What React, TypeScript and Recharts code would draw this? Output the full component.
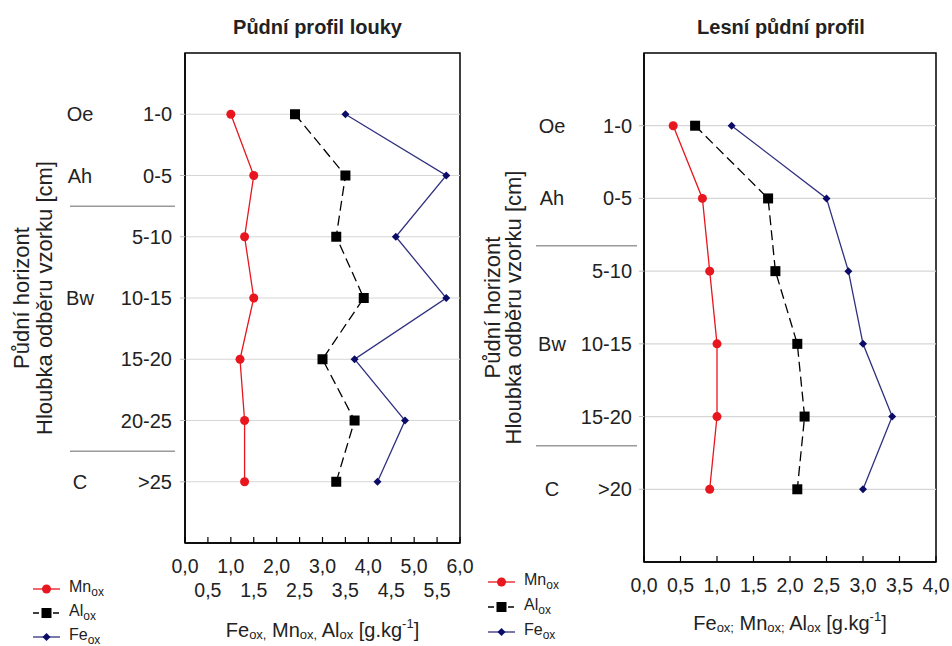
import React from 'react';
import { LineChart, Line, XAxis, YAxis, ReferenceLine, ReferenceArea, Legend } from 'recharts';

// meadow profile (left)
const loukaDepths = ['1-0', '0-5', '5-10', '10-15', '15-20', '20-25', '>25'];
const loukaHorizons = ['Oe', 'Ah', '', 'Bw', '', '', 'C'];
const loukaBoundaries = [2.5, 6.5];
const loukaMn = [1.0, 1.5, 1.3, 1.5, 1.2, 1.3, 1.3];
const loukaAl = [2.4, 3.5, 3.3, 3.9, 3.0, 3.7, 3.3];
const loukaFe = [3.5, 5.7, 4.6, 5.7, 3.7, 4.8, 4.2];
const loukaXTicks = [0, 0.5, 1, 1.5, 2, 2.5, 3, 3.5, 4, 4.5, 5, 5.5, 6];

// forest profile (right)
const lesDepths = ['1-0', '0-5', '5-10', '10-15', '15-20', '>20'];
const lesHorizons = ['Oe', 'Ah', '', 'Bw', '', 'C'];
const lesBoundaries = [2.65, 5.4];
const lesMn = [0.4, 0.8, 0.9, 1.0, 1.0, 0.9];
const lesAl = [0.7, 1.7, 1.8, 2.1, 2.2, 2.1];
const lesFe = [1.2, 2.5, 2.8, 3.0, 3.4, 3.0];
const lesXTicks = [0, 0.5, 1, 1.5, 2, 2.5, 3, 3.5, 4];

const seriesOrder = ['mn', 'al', 'fe'];

const MN_COLOR = '#e8161e';
const FE_LINE = '#30307f';
const FE_DOT = '#0b0b68';
const TEXT = '#222';
const FONT = '"Liberation Sans", Arial, sans-serif';

const toRows = (mn: number[], al: number[], fe: number[]) =>
  mn.map((v, i) => ({ row: i + 1, mn: v, al: al[i], fe: fe[i] }));

const fmt = (v: number) => v.toFixed(1).replace('.', ',');

const Marker = ({ kind, cx, cy }: { kind: string; cx: number; cy: number }) => {
  if (kind === 'mn') return <circle cx={cx} cy={cy} r={4.5} fill={MN_COLOR} />;
  if (kind === 'al') return <rect x={cx - 5} y={cy - 5} width={10} height={10} fill="#000" />;
  return <polygon points={`${cx},${cy - 4} ${cx + 4},${cy} ${cx},${cy + 4} ${cx - 4},${cy}`} fill={FE_DOT} />;
};

const lineColor: Record<string, string> = { mn: MN_COLOR, al: '#000', fe: FE_LINE };

const LegendBox = ({ payload, iconW, rowH }: any) => {
  const items = [...(payload || [])].sort(
    (a: any, b: any) => seriesOrder.indexOf(a.dataKey) - seriesOrder.indexOf(b.dataKey)
  );
  return (
    <div style={{ fontFamily: FONT, fontSize: 16, color: TEXT }}>
      {items.map((e: any) => (
        <div key={e.dataKey} style={{ display: 'flex', alignItems: 'center', height: rowH }}>
          <svg width={iconW} height={14} style={{ marginRight: 9 }}>
            <line
              x1={0}
              x2={iconW}
              y1={7}
              y2={7}
              stroke={lineColor[e.dataKey]}
              strokeWidth={1.3}
              strokeDasharray={e.dataKey === 'al' ? '6 4' : undefined}
            />
            <Marker kind={e.dataKey} cx={iconW / 2} cy={7} />
          </svg>
          <span>
            {e.value}
            <sub style={{ fontSize: 12 }}>ox</sub>
          </span>
        </div>
      ))}
    </div>
  );
};

type Cfg = {
  title: string;
  titleShift: number;
  depths: string[];
  horizons: string[];
  boundaries: number[];
  mn: number[];
  al: number[];
  fe: number[];
  xTicks: number[];
  sep: string;
  twoRows: boolean;
  axisW: number;
  height: number;
  bottom: number;
  depthOff: number;
  horizonOff: number;
  sepFrom: number;
  sepTo: number;
  titleX: [number, number];
  xTitleDy: number;
  legendPos: { left: number; top: number };
  legendRowH: number;
  iconW: number;
};

const ProfileChart = ({ c }: { c: Cfg }) => {
  const data = toRows(c.mn, c.al, c.fe);
  const rows = c.depths.map((_, i) => i + 1);
  const yMax = c.depths.length + 1;
  const xMax = c.xTicks[c.xTicks.length - 1];
  const yTicks = [...rows, ...c.boundaries].sort((a, b) => a - b);

  const yTick = ({ x, y, payload }: any) => {
    const v = payload.value;
    if (!Number.isInteger(v)) {
      return <line x1={x - c.sepFrom} x2={x - c.sepTo} y1={y} y2={y} stroke="#9a9a9a" strokeWidth={1.5} />;
    }
    return (
      <g>
        <line x1={x - 5} x2={x} y1={y} y2={y} stroke="#bbb" />
        <text x={x - c.depthOff} y={y} textAnchor="end" dominantBaseline="central" fontSize={20} fill={TEXT}>
          {c.depths[v - 1]}
        </text>
        <text x={x - c.horizonOff} y={y} textAnchor="middle" dominantBaseline="central" fontSize={20} fill={TEXT}>
          {c.horizons[v - 1]}
        </text>
      </g>
    );
  };

  const xTick = ({ x, y, payload }: any) => {
    const v = payload.value;
    const second = c.twoRows && !Number.isInteger(v);
    return (
      <g>
        <line x1={x} x2={x} y1={y - 6} y2={y} stroke="#000" strokeWidth={1.2} />
        <text x={x} y={y + (second ? 47 : 23)} textAnchor="middle" dominantBaseline="central" fontSize={19.5} fill={TEXT}>
          {fmt(v)}
        </text>
      </g>
    );
  };

  const yTitle = (p: any) => {
    const vb = p.viewBox || { x: 0, y: 0, height: 0 };
    const cy = vb.y + vb.height / 2;
    return (
      <g fontSize={22} fill={TEXT}>
        {['Půdní horizont', 'Hloubka odběru vzorku [cm]'].map((t, i) => (
          <text
            key={t}
            x={vb.x + c.titleX[i]}
            y={cy}
            textAnchor="middle"
            dominantBaseline="central"
            transform={`rotate(-90, ${vb.x + c.titleX[i]}, ${cy})`}
          >
            {t}
          </text>
        ))}
      </g>
    );
  };

  const xTitle = (p: any) => {
    const vb = p.viewBox || { x: 0, y: 0, width: 0 };
    return (
      <text x={vb.x + vb.width / 2} y={vb.y + c.xTitleDy} textAnchor="middle" dominantBaseline="central" fontSize={20} fill={TEXT}>
        Fe
        <tspan fontSize={13} dy={4}>{'ox' + c.sep}</tspan>
        <tspan dy={-4}> Mn</tspan>
        <tspan fontSize={13} dy={4}>{'ox' + c.sep}</tspan>
        <tspan dy={-4}> Al</tspan>
        <tspan fontSize={13} dy={4}>ox</tspan>
        <tspan dy={-4}> [g.kg</tspan>
        <tspan fontSize={13} dy={-7}>-1</tspan>
        <tspan dy={7}>]</tspan>
      </text>
    );
  };

  return (
    <div style={{ position: 'relative', width: 476, height: c.height }}>
      <div
        style={{
          position: 'absolute',
          top: 16,
          left: c.axisW + c.titleShift,
          width: 476 - c.axisW - 16,
          textAlign: 'center',
          fontWeight: 'bold',
          fontSize: 20,
          color: TEXT,
          fontFamily: FONT,
        }}
      >
        {c.title}
      </div>
      <LineChart
        width={476}
        height={c.height}
        data={data}
        layout="vertical"
        margin={{ top: 53, right: 16, left: 0, bottom: 0 }}
        style={{ fontFamily: FONT }}
      >
        <ReferenceArea x1={0} x2={xMax} y1={0} y2={yMax} fill="none" stroke="#000" strokeWidth={1.5} />
        {rows.map((r) => (
          <ReferenceLine key={r} y={r} stroke="#d6d6d6" strokeWidth={1.2} />
        ))}
        <XAxis
          type="number"
          domain={[0, xMax]}
          ticks={c.xTicks}
          interval={0}
          tickSize={0}
          tickMargin={0}
          tickLine={false}
          tick={xTick}
          axisLine={{ stroke: '#000', strokeWidth: 1.5 }}
          height={c.bottom}
          label={{ content: xTitle }}
        />
        <YAxis
          type="number"
          dataKey="row"
          domain={[0, yMax]}
          ticks={yTicks}
          interval={0}
          tickSize={0}
          tickMargin={0}
          tickLine={false}
          tick={yTick}
          axisLine={{ stroke: '#000', strokeWidth: 1.5 }}
          width={c.axisW}
          label={{ content: yTitle }}
        />
        <Legend
          layout="vertical"
          align="center"
          verticalAlign="middle"
          wrapperStyle={{ left: c.legendPos.left, top: c.legendPos.top, width: 100 }}
          content={(p: any) => <LegendBox payload={p.payload} iconW={c.iconW} rowH={c.legendRowH} />}
        />
        <Line
          dataKey="mn"
          name="Mn"
          stroke={MN_COLOR}
          strokeWidth={1.3}
          isAnimationActive={false}
          dot={(p: any) => <Marker key={'mn' + p.index} kind="mn" cx={p.cx} cy={p.cy} />}
          activeDot={false}
        />
        <Line
          dataKey="al"
          name="Al"
          stroke="#000"
          strokeWidth={1.3}
          strokeDasharray="10 5"
          isAnimationActive={false}
          dot={(p: any) => <Marker key={'al' + p.index} kind="al" cx={p.cx} cy={p.cy} />}
          activeDot={false}
        />
        <Line
          dataKey="fe"
          name="Fe"
          stroke={FE_LINE}
          strokeWidth={1.3}
          isAnimationActive={false}
          dot={(p: any) => <Marker key={'fe' + p.index} kind="fe" cx={p.cx} cy={p.cy} />}
          activeDot={false}
        />
      </LineChart>
    </div>
  );
};

const louka: Cfg = {
  title: 'Půdní profil louky',
  titleShift: -5,
  depths: loukaDepths,
  horizons: loukaHorizons,
  boundaries: loukaBoundaries,
  mn: loukaMn,
  al: loukaAl,
  fe: loukaFe,
  xTicks: loukaXTicks,
  sep: ',',
  twoRows: true,
  axisW: 185,
  height: 646,
  bottom: 103,
  depthOff: 13,
  horizonOff: 105,
  sepFrom: 115,
  sepTo: 10,
  titleX: [21, 44],
  xTitleDy: 87,
  legendPos: { left: 33, top: 577 },
  legendRowH: 24,
  iconW: 27,
};

const les: Cfg = {
  title: 'Lesní půdní profil',
  titleShift: -9,
  depths: lesDepths,
  horizons: lesHorizons,
  boundaries: lesBoundaries,
  mn: lesMn,
  al: lesAl,
  fe: lesFe,
  xTicks: lesXTicks,
  sep: ';',
  twoRows: false,
  axisW: 168,
  height: 646,
  bottom: 84,
  depthOff: 12,
  horizonOff: 92,
  sepFrom: 108,
  sepTo: 7,
  titleX: [16, 37],
  xTitleDy: 61,
  legendPos: { left: 12, top: 569 },
  legendRowH: 25,
  iconW: 27,
};

export default function App() {
  return (
    <div
      style={{
        position: 'absolute',
        left: 0,
        top: 0,
        width: 952,
        height: 646,
        background: '#fff',
        fontFamily: FONT,
        display: 'flex',
      }}
    >
      <ProfileChart c={louka} />
      <ProfileChart c={les} />
    </div>
  );
}
